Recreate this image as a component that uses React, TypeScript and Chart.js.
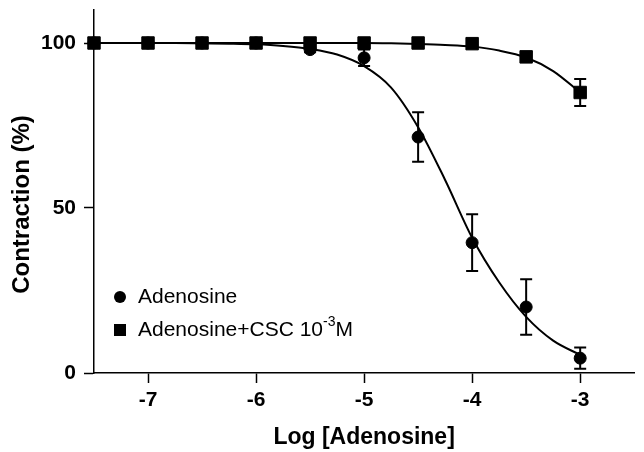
import React, { useEffect, useRef } from "react";
import { Chart, registerables } from "chart.js";

Chart.register(...registerables);

// Measured points
const logConc = [-7.5, -7, -6.5, -6, -5.5, -5, -4.5, -4, -3.5, -3];
const adenosineMean = [100, 100, 100, 100, 98, 95.5, 71.5, 39.5, 20, 4.5];
const adenosineSem = [0, 0, 0, 0, 0.8, 2.5, 7.5, 8.6, 8.4, 3.2];
const cscMean = [100, 100, 100, 100, 100, 100, 100, 99.8, 95.8, 85];
const cscSem = [0, 0, 0, 0, 0, 0, 0, 0.4, 1.5, 4.1];

// Fitted curves
const curveX = [-7.5, -7.25, -7, -6.75, -6.5, -6.25, -6, -5.75, -5.5, -5.25, -5, -4.75, -4.5, -4.25, -4, -3.75, -3.5, -3.25, -3];
const adenosineFit = [100, 100, 100, 100, 99.9, 99.8, 99.6, 99.1, 98.2, 96.5, 93, 86.5, 74.5, 58.5, 41, 27.5, 17, 9.8, 5.5];
const cscFit = [100, 100, 100, 100, 100, 100, 100, 100, 100, 100, 100, 99.9, 99.7, 99.4, 98.9, 97.7, 95.6, 91.5, 85];

const xTicks = [-7, -6, -5, -4, -3];
const yTicks = [0, 50, 100];

const xTitle = "Log [Adenosine]";
const yTitle = "Contraction (%)";
const legendLabel1 = "Adenosine";
const legendLabel2Main = "Adenosine+CSC 10";
const legendLabel2Sup = "-3";
const legendLabel2End = "M";

const FONT = "'Liberation Sans', Arial, Helvetica, sans-serif";

const errorBarPlugin = {
  id: "errorBars",
  afterDatasetsDraw(chart: any) {
    const ctx = chart.ctx;
    const xs = chart.scales.x;
    const ys = chart.scales.y;
    const draw = (means: number[], sems: number[]) => {
      means.forEach((m, i) => {
        const s = sems[i];
        if (!s) return;
        const x = xs.getPixelForValue(logConc[i]);
        const yt = ys.getPixelForValue(m + s);
        const yb = ys.getPixelForValue(m - s);
        ctx.save();
        ctx.strokeStyle = "#000";
        ctx.lineWidth = 2;
        ctx.beginPath();
        ctx.moveTo(x, yt);
        ctx.lineTo(x, yb);
        ctx.moveTo(x - 6, yt);
        ctx.lineTo(x + 6, yt);
        ctx.moveTo(x - 6, yb);
        ctx.lineTo(x + 6, yb);
        ctx.stroke();
        ctx.restore();
      });
    };
    draw(adenosineMean, adenosineSem);
    draw(cscMean, cscSem);
  },
};

const legendPlugin = {
  id: "customLegend",
  afterDraw(chart: any) {
    const ctx = chart.ctx;
    const { left, top, bottom } = chart.chartArea;
    const mx = left + 26;
    const tx = left + 44;
    const y1 = top + 287;
    const y2 = top + 320;
    ctx.save();
    ctx.fillStyle = "#000";
    ctx.beginPath();
    ctx.arc(mx, y1, 6, 0, Math.PI * 2);
    ctx.fill();
    ctx.fillRect(mx - 6, y2 - 6, 12, 12);
    ctx.textBaseline = "middle";
    ctx.textAlign = "left";
    ctx.font = `21px ${FONT}`;
    ctx.fillText(legendLabel1, tx, y1);
    ctx.fillText(legendLabel2Main, tx, y2);
    const w = ctx.measureText(legendLabel2Main).width;
    ctx.font = `14px ${FONT}`;
    ctx.fillText(legendLabel2Sup, tx + w, y2 - 8);
    const w2 = ctx.measureText(legendLabel2Sup).width;
    ctx.font = `21px ${FONT}`;
    ctx.fillText(legendLabel2End, tx + w + w2, y2);
    ctx.restore();

    // y-axis title
    ctx.save();
    ctx.translate(22, (top + bottom) / 2 + 13);
    ctx.rotate(-Math.PI / 2);
    ctx.textAlign = "center";
    ctx.textBaseline = "middle";
    ctx.fillStyle = "#000";
    ctx.font = `bold 24px ${FONT}`;
    ctx.fillText(yTitle, 0, 0);
    ctx.restore();
  },
};

export default function App() {
  const ref = useRef<HTMLCanvasElement | null>(null);

  useEffect(() => {
    if (!ref.current) return;
    const chart = new Chart(ref.current, {
      type: "line",
      data: {
        datasets: [
          {
            label: "Adenosine",
            data: logConc.map((x, i) => ({ x, y: adenosineMean[i] })),
            showLine: false,
            pointStyle: "circle",
            pointRadius: 6,
            backgroundColor: "#000",
            borderColor: "#000",
            clip: false,
          },
          {
            label: "Adenosine+CSC 10-3M",
            data: logConc.map((x, i) => ({ x, y: cscMean[i] })),
            showLine: false,
            pointStyle: "rect",
            pointRadius: 8.8,
            backgroundColor: "#000",
            borderColor: "#000",
            clip: false,
          },
          {
            label: "Adenosine fit",
            data: curveX.map((x, i) => ({ x, y: adenosineFit[i] })),
            borderColor: "#000",
            borderWidth: 2,
            pointRadius: 0,
            cubicInterpolationMode: "monotone",
            fill: false,
          },
          {
            label: "CSC fit",
            data: curveX.map((x, i) => ({ x, y: cscFit[i] })),
            borderColor: "#000",
            borderWidth: 2,
            pointRadius: 0,
            cubicInterpolationMode: "monotone",
            fill: false,
          },
        ],
      },
      options: {
        animation: false,
        responsive: false,
        devicePixelRatio: 1,
        layout: { padding: { top: 10, right: 8, left: 0, bottom: 0 } },
        plugins: {
          legend: { display: false },
          tooltip: { enabled: false },
        },
        scales: {
          x: {
            type: "linear",
            min: -7.5,
            max: -2.5,
            afterBuildTicks: (s: any) => {
              s.ticks = xTicks.map((v) => ({ value: v }));
            },
            afterFit: (s: any) => {
              s.height = 79;
              s.paddingLeft = 0;
              s.paddingRight = 0;
            },
            ticks: {
              color: "#000",
              font: { family: FONT, size: 21, weight: "bold" },
              padding: 5,
              maxRotation: 0,
              autoSkip: false,
              callback: (v: any) => String(v),
            },
            grid: {
              drawOnChartArea: false,
              drawTicks: true,
              tickLength: 10,
              tickColor: "#000",
              tickWidth: 1.5,
            },
            border: { color: "#000", width: 1.5 },
            title: {
              display: true,
              text: xTitle,
              color: "#000",
              font: { family: FONT, size: 23, weight: "bold" },
              padding: { top: 0, bottom: 1 },
            },
          },
          y: {
            type: "linear",
            min: 0,
            max: 110,
            afterBuildTicks: (s: any) => {
              s.ticks = yTicks.map((v) => ({ value: v }));
            },
            afterFit: (s: any) => {
              s.width = 94;
              s.paddingTop = 0;
              s.paddingBottom = 0;
            },
            ticks: {
              color: "#000",
              font: { family: FONT, size: 21, weight: "bold" },
              padding: 8,
              callback: (v: any) => String(v),
            },
            grid: {
              drawOnChartArea: false,
              drawTicks: true,
              tickLength: 10,
              tickColor: "#000",
              tickWidth: 1.5,
            },
            border: { color: "#000", width: 1.5 },
            title: { display: false },
          },
        },
      },
      plugins: [errorBarPlugin, legendPlugin],
    } as any);
    return () => chart.destroy();
  }, []);

  return (
    <div style={{ position: "absolute", left: 0, top: 0, width: 644, height: 452, background: "#fff" }}>
      <canvas ref={ref} width={644} height={452} style={{ display: "block" }} />
    </div>
  );
}
